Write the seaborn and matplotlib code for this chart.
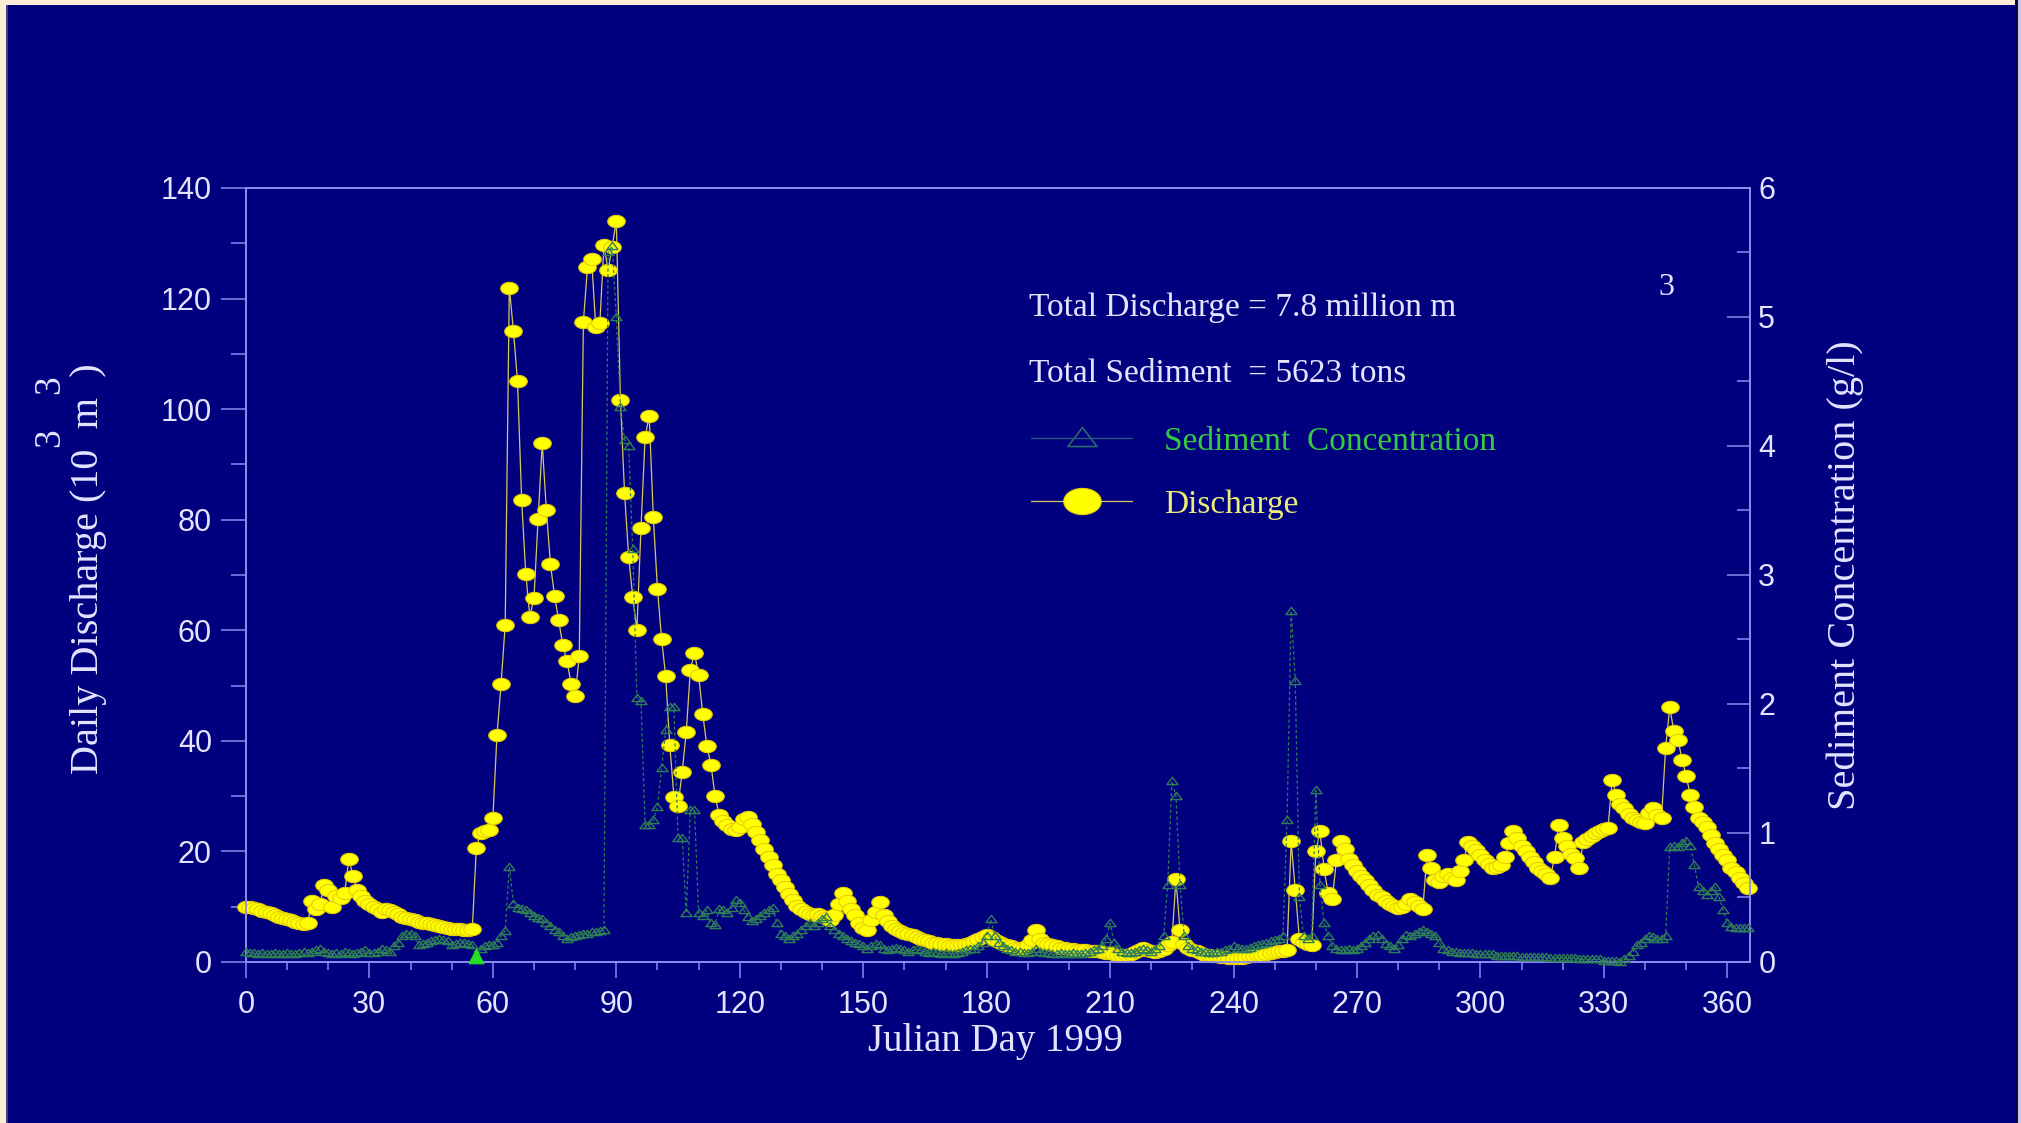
import numpy as np
import pandas as pd
import matplotlib
matplotlib.use("Agg")
import matplotlib.pyplot as plt
import seaborn as sns
from matplotlib.path import Path
from matplotlib.lines import Line2D
from matplotlib.patches import Rectangle
from matplotlib.ticker import MultipleLocator

# ---------------- data ----------------
discharge = [
    10.0, 10.0, 9.8, 9.6, 9.3, 9.0, 8.8, 8.5, 8.2, 8.0, 7.8, 7.5, 7.3, 7.0, 6.8, 7.0,
    11.0, 9.5, 10.5, 13.9, 13.0, 10.0, 12.0, 11.5, 12.5, 18.7, 15.6, 13.0, 12.0, 11.0, 10.5, 10.0,
    9.5, 9.0, 9.5, 9.4, 9.0, 8.6, 8.2, 8.0, 7.8, 7.5, 7.3, 7.1, 7.0, 6.8, 6.7, 6.5,
    6.4, 6.2, 6.0, 6.0, 5.9, 5.8, 5.8, 6.0, 20.7, 23.3, 23.6, 23.8, 26.0, 41.0, 50.3, 61.0,
    122.0, 114.2, 105.0, 83.5, 70.2, 62.4, 65.9, 80.2, 93.8, 81.8, 71.9, 66.2, 61.8, 57.3, 54.5, 50.3,
    48.1, 55.3, 115.8, 125.7, 127.2, 114.9, 115.5, 129.7, 125.1, 129.4, 134.1, 101.7, 84.9, 73.3, 66.0, 60.0,
    78.5, 94.9, 98.8, 80.4, 67.5, 58.5, 51.7, 39.2, 29.9, 28.3, 34.3, 41.6, 52.9, 55.9, 51.9, 44.9,
    39.1, 35.7, 30.0, 26.6, 25.5, 24.8, 24.0, 23.8, 24.5, 25.8, 26.2, 25.0, 23.5, 22.0, 20.5, 19.0,
    17.5, 16.0, 14.8, 13.5, 12.3, 11.2, 10.2, 9.5, 9.0, 8.6, 8.5, 8.6, 8.4, 8.0, 7.6, 8.5,
    10.5, 12.4, 11.0, 9.5, 8.5, 7.0, 6.2, 5.8, 7.5, 9.0, 10.9, 8.5, 7.4, 6.5, 6.0, 5.6,
    5.2, 5.0, 4.8, 4.5, 4.2, 4.0, 3.8, 3.5, 3.4, 3.3, 3.2, 3.1, 3.0, 3.0, 3.0, 3.2,
    3.4, 3.8, 4.2, 4.5, 4.8, 4.5, 4.0, 3.6, 3.3, 3.0, 2.8, 2.6, 2.5, 2.6, 3.0, 4.0,
    5.8, 4.2, 3.5, 3.2, 3.0, 2.8, 2.6, 2.5, 2.4, 2.3, 2.2, 2.2, 2.1, 2.0, 2.0, 1.9,
    1.8, 1.7, 1.6, 1.4, 1.2, 1.2, 1.3, 1.5, 1.8, 2.2, 2.5, 2.2, 1.9, 1.8, 1.9, 2.3,
    3.0, 3.6, 15.0, 5.7, 3.3, 2.6, 2.2, 1.9, 1.6, 1.3, 1.2, 1.1, 1.0, 0.9, 0.9, 0.8,
    0.8, 0.8, 0.8, 0.9, 1.0, 1.1, 1.2, 1.3, 1.5, 1.6, 1.8, 1.9, 2.0, 2.2, 21.8, 13.0,
    4.2, 3.6, 3.3, 3.0, 20.0, 23.6, 16.8, 12.4, 11.4, 18.4, 21.9, 20.5, 18.6, 17.5, 16.5, 15.5,
    14.9, 14.0, 13.0, 12.2, 11.8, 11.0, 10.5, 10.2, 9.8, 10.0, 10.5, 11.4, 10.8, 10.2, 9.6, 19.3,
    17.0, 14.9, 14.5, 15.5, 16.0, 15.2, 14.9, 16.5, 18.5, 21.7, 21.0, 20.2, 19.4, 18.5, 17.8, 17.0,
    17.2, 17.5, 19.0, 21.5, 23.6, 22.5, 21.0, 20.0, 19.0, 18.0, 17.0, 16.5, 16.0, 15.2, 19.0, 24.8,
    22.4, 21.0, 19.5, 18.8, 17.0, 21.7, 22.2, 22.8, 23.3, 23.6, 24.0, 24.2, 33.0, 30.2, 28.5, 27.8,
    26.8, 26.0, 25.6, 25.4, 25.2, 27.0, 27.8, 26.5, 26.0, 38.7, 46.1, 41.7, 40.2, 36.6, 33.6, 30.2,
    28.1, 26.0, 25.4, 24.5, 23.0, 21.5, 20.5, 19.4, 18.5, 17.0, 16.2, 15.1, 14.2, 13.3,
]

sediment = [
    0.08, 0.07, 0.07, 0.06, 0.07, 0.06, 0.06, 0.07, 0.06, 0.06, 0.07, 0.06, 0.06, 0.07, 0.08, 0.07,
    0.08, 0.09, 0.10, 0.08, 0.07, 0.06, 0.07, 0.06, 0.08, 0.07, 0.06, 0.07, 0.08, 0.09, 0.07, 0.07,
    0.08, 0.10, 0.09, 0.08, 0.12, 0.15, 0.20, 0.22, 0.22, 0.20, 0.13, 0.14, 0.15, 0.16, 0.17, 0.18,
    0.17, 0.16, 0.13, 0.14, 0.15, 0.15, 0.14, 0.13, 0.04, 0.10, 0.12, 0.13, 0.13, 0.15, 0.20, 0.24,
    0.74, 0.45, 0.42, 0.41, 0.40, 0.38, 0.36, 0.34, 0.33, 0.30, 0.28, 0.25, 0.23, 0.20, 0.18, 0.19,
    0.20, 0.21, 0.22, 0.22, 0.23, 0.23, 0.24, 0.25, 5.50, 5.55, 5.00, 4.30, 4.05, 4.00, 3.20, 2.05,
    2.02, 1.06, 1.06, 1.10, 1.20, 1.50, 1.80, 1.98, 1.98, 0.96, 0.96, 0.38, 1.18, 1.18, 0.38, 0.36,
    0.40, 0.30, 0.29, 0.41, 0.40, 0.38, 0.42, 0.48, 0.46, 0.40, 0.35, 0.32, 0.33, 0.36, 0.38, 0.40,
    0.42, 0.30, 0.22, 0.20, 0.18, 0.20, 0.22, 0.25, 0.28, 0.30, 0.28, 0.30, 0.33, 0.35, 0.28, 0.25,
    0.22, 0.20, 0.18, 0.16, 0.15, 0.14, 0.12, 0.10, 0.12, 0.14, 0.13, 0.10, 0.09, 0.10, 0.11, 0.10,
    0.09, 0.08, 0.09, 0.10, 0.09, 0.08, 0.07, 0.08, 0.07, 0.06, 0.07, 0.06, 0.06, 0.07, 0.08, 0.09,
    0.10, 0.10, 0.12, 0.15, 0.20, 0.33, 0.20, 0.15, 0.12, 0.10, 0.09, 0.08, 0.08, 0.07, 0.07, 0.08,
    0.10, 0.08, 0.07, 0.07, 0.06, 0.06, 0.07, 0.06, 0.06, 0.07, 0.06, 0.06, 0.07, 0.08, 0.09, 0.10,
    0.12, 0.18, 0.30, 0.15, 0.10, 0.08, 0.07, 0.07, 0.08, 0.09, 0.10, 0.09, 0.08, 0.10, 0.12, 0.20,
    0.60, 1.40, 1.29, 0.60, 0.20, 0.12, 0.10, 0.09, 0.08, 0.08, 0.07, 0.07, 0.08, 0.08, 0.09, 0.10,
    0.12, 0.11, 0.10, 0.10, 0.11, 0.12, 0.13, 0.14, 0.15, 0.16, 0.17, 0.18, 0.20, 1.10, 2.72, 2.18,
    0.50, 0.20, 0.18, 0.20, 1.33, 0.60, 0.30, 0.20, 0.12, 0.10, 0.09, 0.09, 0.10, 0.09, 0.10, 0.12,
    0.15, 0.18, 0.20, 0.21, 0.18, 0.14, 0.12, 0.10, 0.13, 0.18, 0.21, 0.20, 0.22, 0.23, 0.25, 0.23,
    0.22, 0.20, 0.15, 0.10, 0.09, 0.08, 0.08, 0.07, 0.07, 0.07, 0.07, 0.06, 0.06, 0.06, 0.06, 0.06,
    0.05, 0.05, 0.05, 0.05, 0.05, 0.05, 0.04, 0.04, 0.04, 0.04, 0.04, 0.04, 0.04, 0.03, 0.03, 0.03,
    0.03, 0.03, 0.03, 0.03, 0.02, 0.02, 0.02, 0.02, 0.02, 0.02, 0.01, 0.01, 0.01, 0.01, 0.00, 0.02,
    0.05, 0.08, 0.13, 0.15, 0.18, 0.20, 0.19, 0.18, 0.18, 0.20, 0.89, 0.90, 0.89, 0.92, 0.94, 0.90,
    0.75, 0.58, 0.55, 0.52, 0.55, 0.58, 0.50, 0.40, 0.30, 0.27, 0.26, 0.26, 0.26, 0.26,
]

flag_day = [56]
flag_sed = [0.05]

x_ticks = [0, 30, 60, 90, 120, 150, 180, 210, 240, 270, 300, 330, 360]
left_ticks = [0, 20, 40, 60, 80, 100, 120, 140]
right_ticks = [0, 1, 2, 3, 4, 5, 6]

day_dis = list(range(len(discharge)))
day_sed = list(range(len(sediment)))

# ---------------- style ----------------
BG = "#01017f"
AXC = "#8c8cf0"
TXT = "#e4e4ff"
YEL = "#ffff00"
YEL_EDGE = "#e6cf00"
YEL_LINE = "#d8c860"
SEDC = "#2f7d55"
SANS = ["Liberation Sans", "DejaVu Sans"]
SERIF = ["Liberation Serif", "DejaVu Serif"]

sns.set_style("white")
plt.rcParams["font.family"] = SANS
plt.rcParams["axes.facecolor"] = BG
plt.rcParams["figure.facecolor"] = BG

# custom markers (flattened shapes as in the reference)
t = np.linspace(0, 2 * np.pi, 48)
ellipse = Path(np.column_stack([np.cos(t), 0.7 * np.sin(t)]), closed=True)
tri = Path([(-1.0, -0.55), (1.0, -0.55), (0.0, 0.75), (-1.0, -0.55)], closed=True)

fig = plt.figure(figsize=(20.21, 11.23), dpi=100, facecolor=BG)
ax = fig.add_axes([0.1217, 0.1434, 0.7442, 0.6892])
ax.set_facecolor(BG)
ax2 = ax.twinx()

df_dis = pd.DataFrame({"day": day_dis, "discharge": discharge})
df_sed = pd.DataFrame({"day": day_sed, "sediment": sediment})

sns.lineplot(data=df_dis, x="day", y="discharge", ax=ax, estimator=None, sort=False,
             legend=False, color=YEL_LINE, linewidth=0.9, marker=ellipse,
             markersize=12.6, markerfacecolor=YEL, markeredgecolor=YEL_EDGE,
             markeredgewidth=0.8, clip_on=False, zorder=3)

sns.lineplot(data=df_sed, x="day", y="sediment", ax=ax2, estimator=None, sort=False,
             legend=False, color=SEDC, linewidth=0.9, linestyle=(0, (2.5, 2.0)),
             marker=tri, markersize=8, markerfacecolor="none", markeredgecolor=SEDC,
             markeredgewidth=1.0, clip_on=False, zorder=3)
sns.scatterplot(x=flag_day, y=flag_sed, ax=ax2, marker="^", s=110, color="#22e022",
                edgecolor="#22e022", legend=False, zorder=4, clip_on=False)

ax.set_xlim(0, 365.5)
ax.set_ylim(0, 140)
ax2.set_ylim(0, 6)
ax.set_xticks(x_ticks)
ax.set_yticks(left_ticks)
ax2.set_yticks(right_ticks)
ax.xaxis.set_minor_locator(MultipleLocator(10))
ax.yaxis.set_minor_locator(MultipleLocator(10))
ax2.yaxis.set_minor_locator(MultipleLocator(0.5))
ax.set_xlabel("")
ax.set_ylabel("")
ax2.set_ylabel("")

for a in (ax, ax2):
    for s in a.spines.values():
        s.set_visible(True)
        s.set_color(AXC)
        s.set_linewidth(1.3)
    a.grid(False)

ax.tick_params(axis="x", which="major", direction="out", length=11.5, width=1.1,
               color=AXC, pad=8.5, labelsize=22, labelcolor=TXT, top=False, bottom=True)
ax.tick_params(axis="x", which="minor", direction="out", length=6, width=1.1,
               color=AXC, top=False, bottom=True)
ax.tick_params(axis="y", which="major", direction="out", length=18, width=1.1,
               color=AXC, pad=6.5, labelsize=22, labelcolor=TXT, left=True, right=False)
ax.tick_params(axis="y", which="minor", direction="out", length=11, width=1.1,
               color=AXC, left=True, right=False)
ax2.tick_params(axis="y", which="major", direction="in", length=16.5, width=1.1,
                color=AXC, pad=6, labelsize=22, labelcolor=TXT, right=True, left=False)
ax2.tick_params(axis="y", which="minor", direction="in", length=9.5, width=1.1,
                color=AXC, right=True, left=False)
for lab in ax.get_xticklabels() + ax.get_yticklabels() + ax2.get_yticklabels():
    lab.set_family(SANS)

# ---------------- text ----------------
fig.text(89 / 2021, 1 - 569 / 1123, "Daily Discharge (10  m  )", rotation=90,
         ha="center", va="center", family=SERIF, size=29, color=TXT)
fig.text(50 / 2021, 1 - 438 / 1123, "3", rotation=90, ha="center", va="center",
         family=SERIF, size=27, color=TXT)
fig.text(50 / 2021, 1 - 385 / 1123, "3", rotation=90, ha="center", va="center",
         family=SERIF, size=27, color=TXT)
fig.text(1845 / 2021, 1 - 575 / 1123, "Sediment Concentration (g/l)", rotation=90,
         ha="center", va="center", family=SERIF, size=29, color=TXT)
fig.text(995 / 2021, 1 - 1041 / 1123, "Julian Day 1999", ha="center", va="center",
         family=SERIF, size=28, color=TXT)

fig.text(1029 / 2021, 1 - 316 / 1123, "Total Discharge = 7.8 million m", ha="left",
         va="baseline", family=SERIF, size=24, color=TXT)
fig.text(1658 / 2021, 1 - 295 / 1123, "3", ha="left", va="baseline",
         family=SERIF, size=23, color=TXT)
fig.text(1029 / 2021, 1 - 382 / 1123, "Total Sediment  = 5623 tons", ha="left",
         va="baseline", family=SERIF, size=24, color=TXT)

h_sed = Line2D([], [], color="#2a5a7a", linewidth=0.9, marker=tri, markersize=21,
               markerfacecolor="none", markeredgecolor="#2a6a6a", markeredgewidth=1.2)
h_dis = Line2D([], [], color=YEL_LINE, linewidth=0.9, marker=ellipse, markersize=27,
               markerfacecolor=YEL, markeredgecolor=YEL_EDGE, markeredgewidth=0.8)
fig.legend(handles=[h_sed, h_dis], labels=["Sediment  Concentration", "Discharge"],
           loc="upper left", bbox_to_anchor=(1031 / 2021, 1 - 426 / 1123),
           frameon=False, borderpad=0, borderaxespad=0, handlelength=3.03,
           handletextpad=0.96, labelspacing=0.98,
           prop={"family": SERIF, "size": 24},
           labelcolor=["#34c843", "#ecec78"])

# slide frame
fig.add_artist(Rectangle((0, 0), 6 / 2021, 1, transform=fig.transFigure,
                         facecolor="#fbeed6", edgecolor="none", zorder=10))
fig.add_artist(Rectangle((6 / 2021, 0), 2 / 2021, 1 - 5 / 1123, transform=fig.transFigure,
                         facecolor="#4a3a8a", edgecolor="none", zorder=10))
fig.add_artist(Rectangle((0, 1 - 5 / 1123), 1, 5 / 1123, transform=fig.transFigure,
                         facecolor="#fbeed6", edgecolor="none", zorder=10))
fig.add_artist(Rectangle((1 - 3 / 2021, 0), 3 / 2021, 1, transform=fig.transFigure,
                         facecolor="#c8c8e8", edgecolor="none", zorder=10))
fig.add_artist(Rectangle((1 - 6 / 2021, 0), 3 / 2021, 1, transform=fig.transFigure,
                         facecolor="#0a0a40", edgecolor="none", zorder=10))

fig.savefig("out.png", dpi=100, facecolor=BG)
